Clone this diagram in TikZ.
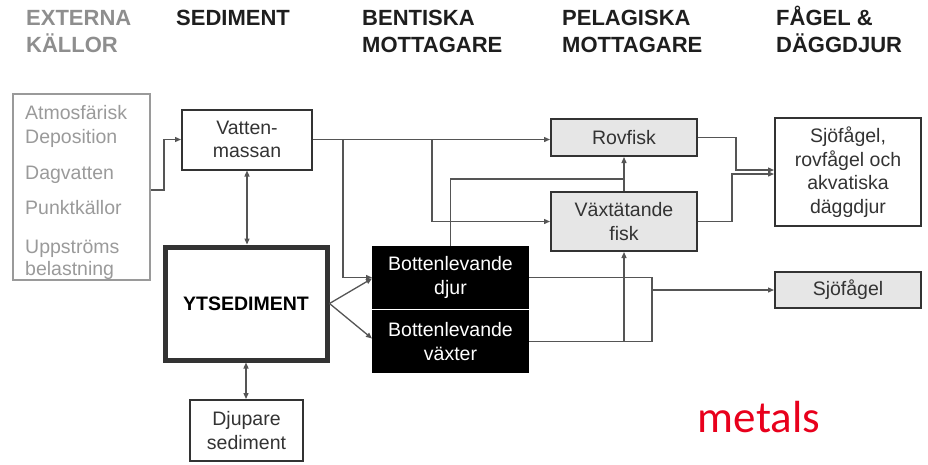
\documentclass[tikz,border=0pt]{standalone}
\usepackage{fontspec}
\setmainfont{Liberation Sans}
\newfontfamily\calib{Carlito}
\usetikzlibrary{arrows.meta,calc}
\definecolor{hdr}{HTML}{1E1E1E}
\definecolor{hdrgray}{HTML}{8E8E8E}
\definecolor{extgray}{HTML}{9A9A9A}
\definecolor{boxline}{HTML}{333333}
\definecolor{conncol}{HTML}{555555}
\definecolor{boxfill}{HTML}{E6E6E6}
\definecolor{metred}{HTML}{E8001C}
\begin{document}
\begin{tikzpicture}[x=1pt,y=-1pt,
  hdrtext/.style={anchor=base west, inner sep=0pt, text=hdr, font=\fontsize{22}{26}\selectfont\bfseries},
  exttext/.style={anchor=base west, inner sep=0pt, text=extgray, font=\fontsize{19.5}{23}\selectfont},
  box/.style={draw=boxline, line width=2pt, align=center, inner sep=2pt, text=boxline, font=\fontsize{19.5}{23.5}\selectfont},
  greybox/.style={box, fill=boxfill},
  blackbox/.style={box, draw=black, fill=black, text=white},
  conn/.style={draw=conncol, line width=1.3pt},
  arr/.style={conn, -{Triangle[length=6pt,width=5pt]}},
  arrtwo/.style={conn, {Triangle[length=6pt,width=5pt]}-{Triangle[length=6pt,width=5pt]}}
]
\useasboundingbox (0,0) rectangle (928,464);

% headers
\node[hdrtext, text=hdrgray] (h1a) at (26,25) {EXTERNA};
\node[hdrtext, text=hdrgray] (h1b) at (26,52) {KÄLLOR};
\node[hdrtext] (h2) at (176,25) {SEDIMENT};
\node[hdrtext] (h3a) at (362,25) {BENTISKA};
\node[hdrtext] (h3b) at (362,52) {MOTTAGARE};
\node[hdrtext] (h4a) at (562,25) {PELAGISKA};
\node[hdrtext] (h4b) at (562,52) {MOTTAGARE};
\node[hdrtext] (h5a) at (776,25) {FÅGEL \&};
\node[hdrtext] (h5b) at (776,52) {DÄGGDJUR};

% external sources
\node[draw=extgray, line width=1.5pt, minimum width=137pt, minimum height=186pt, inner sep=0pt] (ext) at (81.5,187) {};
\node[exttext] (e1) at (25,119) {Atmosfärisk};
\node[exttext] (e2) at (25,143) {Deposition};
\node[exttext] (e3) at (25,179) {Dagvatten};
\node[exttext] (e4) at (25,214) {Punktkällor};
\node[exttext] (e5) at (25,253) {Uppströms};
\node[exttext] (e6) at (25,275) {belastning};

% boxes
\node[box, minimum width=130pt, minimum height=60pt] (vat) at (247,139.5) {Vatten-\\massan};
\node[box, line width=5pt, minimum width=162pt, minimum height=113pt, font=\fontsize{19.5}{23.5}\selectfont\bfseries, text=black] (yts) at (246,303.5) {YTSEDIMENT};
\node[box, minimum width=113pt, minimum height=61pt] (djup) at (246.5,430.5) {Djupare\\sediment};
\node[blackbox, minimum width=155pt, minimum height=61pt] (djur) at (450.5,277.5) {Bottenlevande\\djur};
\node[blackbox, minimum width=155pt, minimum height=61pt] (vax) at (450.5,341.5) {Bottenlevande\\växter};
\node[greybox, minimum width=146pt, minimum height=37pt] (rov) at (624,137.5) {Rovfisk};
\node[greybox, minimum width=146pt, minimum height=59pt] (vfisk) at (624,221.5) {Växtätande\\fisk};
\node[box, minimum width=146pt, minimum height=108pt] (big) at (848,172) {Sjöfågel,\\rovfågel och\\akvatiska\\däggdjur};
\node[greybox, minimum width=146pt, minimum height=36pt] (sjo) at (848,290) {Sjöfågel};

% connectors
\draw[arr] ($(ext.east)+(0,3)$) -| ($(vat.west)+(-17,0)$) -- (vat.west);
\draw[arrtwo] (vat.south) -- (vat.south |- yts.north);
\draw[arrtwo] (yts.south) -- (yts.south |- djup.north);

\coordinate (b1) at ($(vat.east)+(30,0)$);
\coordinate (b2) at ($(vat.east)+(119,0)$);
\draw[arr] (vat.east) -- (vat.east -| rov.west);
\draw[arr] (b1) |- (djur.west);
\draw[arr] (b2) |- (vfisk.west);

\draw[arr] (yts.east) -- ($(djur.west)+(0,1)$);
\draw[arr] (yts.east) -- ($(vax.west)+(0,-3)$);

\coordinate (j1) at ($(vfisk.north)+(0,-12)$);
\draw[conn] (djur.north) |- (j1);
\draw[arr] (vfisk.north) -- (rov.south);

\draw[arr] (rov.east) -| ($(big.west)+(-38,-2)$) -- ($(big.west)+(0,-2)$);
\draw[arr] (vfisk.east) -| ($(big.west)+(-42,2)$) -- ($(big.west)+(0,2)$);

\coordinate (m) at ($(djur.east)+(123,0)$);
\draw[conn] (djur.east) -- (m) -- (m |- vax.east) -- (vax.east);
\draw[arr] (m |- sjo.west) -- (sjo.west);
\draw[arr] (vax.east -| vfisk.south) -- (vfisk.south);

% label
\node[font=\calib\fontsize{45}{50}\selectfont, text=metred, inner sep=0pt] (met) at (759,417) {metals};
\end{tikzpicture}
\end{document}
